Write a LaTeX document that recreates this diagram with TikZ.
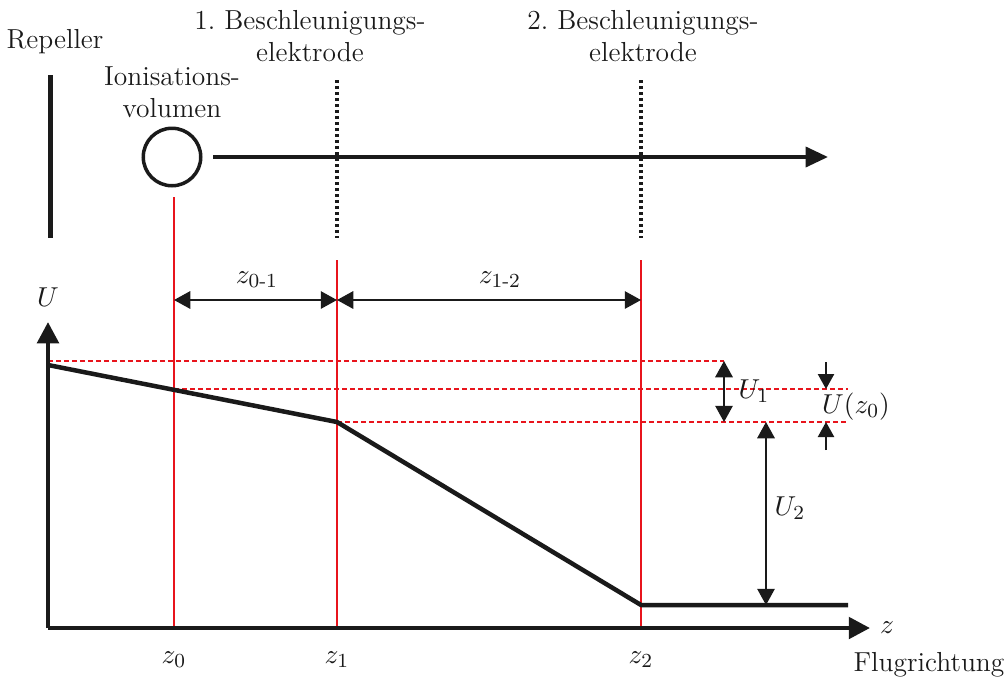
\documentclass[tikz,border=0pt]{standalone}
\usepackage{amsmath}
\usepackage{xcolor}
\usepackage{tikz}
\usetikzlibrary{positioning, arrows.meta, calc}
\definecolor{Rot}     {HTML}{E8141C}
\definecolor{Schwarz} {HTML}{1A1A1A}

\tikzset{
  lbl/.style      = {font=\fontsize{11}{13}\selectfont\frenchspacing, text=Schwarz, inner sep=0pt},
  dickline/.style = {line width=1.8pt, Schwarz},
  rotline/.style  = {line width=0.6pt, Rot},
  rotdash/.style  = {line width=0.6pt, Rot, dash pattern=on 2pt off 1.2pt},
  elektrode/.style= {line width=1.3pt, Schwarz, dash pattern=on 1.3pt off 1.1pt},
  masspfeil/.style= {line width=0.6pt, Schwarz,
                     {Triangle[length=6.5pt,width=7pt]}-{Triangle[length=6.5pt,width=7pt]}},
  kleinpfeil/.style={line width=0.6pt, Schwarz, -{Triangle[length=6pt,width=6.5pt]}},
}

\begin{document}
\begin{tikzpicture}[x=0.4pt, y=-0.4pt]
      \useasboundingbox (0,0) rectangle (1005,681);

      % Aufbau
      \node[lbl] (repeller) at (55,42) {Repeller};
      \coordinate (repOben) at (50,75);
      \coordinate (repUnten) at (50,238);
      \draw[line width=2pt, Schwarz] (repOben) -- (repUnten);

      \node[lbl, align=center] (ionlbl) at (172,92) {Ionisations-\\volumen};
      \node[circle, draw=Schwarz, line width=1.4pt, minimum size=23pt, inner sep=0pt] (volumen) at (172,157) {};

      \coordinate (flugStart) at (213,157);
      \coordinate (flugEnde) at (828,157);
      \draw[line width=1.6pt, Schwarz, -{Triangle[length=9pt,width=8pt]}] (flugStart) -- (flugEnde);

      \node[lbl, align=center] (elek1lbl) at (310,36) {1. Beschleunigungs-\\elektrode};
      \node[lbl, align=center] (elek2lbl) at (643,36) {2. Beschleunigungs-\\elektrode};
      \coordinate (elek1Oben) at (337,80);  \coordinate (elek1Unten) at (337,238);
      \coordinate (elek2Oben) at (641,80);  \coordinate (elek2Unten) at (641,238);
      \draw[elektrode] (elek1Oben) -- (elek1Unten);
      \draw[elektrode] (elek2Oben) -- (elek2Unten);

      % Potentialverlauf
      \coordinate (ursprung) at (48,628);
      \coordinate (uSpitze) at (48,322);
      \coordinate (zSpitze) at (870,628);
      \node[lbl] (ulbl) at (48,297) {$U$};
      \node[lbl] (zlbl) at (887,628) {$z$};
      \node[lbl] (fluglbl) at (929,665) {Flugrichtung};

      \coordinate (z0Oben) at (174,197); \coordinate (z0Unten) at (174,628);
      \coordinate (z1Oben) at (337,260); \coordinate (z1Unten) at (337,628);
      \coordinate (z2Oben) at (641,260); \coordinate (z2Unten) at (641,628);
      \draw[rotline] (z0Oben) -- (z0Unten);
      \draw[rotline] (z1Oben) -- (z1Unten);
      \draw[rotline] (z2Oben) -- (z2Unten);
      \node[lbl] (z0lbl) at (174,660) {$z_0$};
      \node[lbl] (z1lbl) at (337,660) {$z_1$};
      \node[lbl] (z2lbl) at (641,660) {$z_2$};

      \coordinate (d0) at (174,300); \coordinate (d1) at (337,300); \coordinate (d2) at (641,300);
      \draw[masspfeil] (d0) -- (d1);
      \draw[masspfeil] (d1) -- (d2);
      \node[lbl] (z01lbl) at (257,280) {$z_{0\text{-}1}$};
      \node[lbl] (z12lbl) at (500,280) {$z_{1\text{-}2}$};

      \coordinate (uStart) at (48,365);
      \coordinate (uZ1) at (337,422);
      \coordinate (uZ2) at (641,605);
      \coordinate (uEnde) at (848,605);

      \coordinate (h1a) at (48,361);  \coordinate (h1b) at (724,361);
      \coordinate (h2a) at (174,389); \coordinate (h2b) at (848,389);
      \coordinate (h3a) at (337,422); \coordinate (h3b) at (848,422);
      \draw[rotdash] (h1a) -- (h1b);
      \draw[rotdash] (h2a) -- (h2b);
      \draw[rotdash] (h3a) -- (h3b);

      \draw[dickline, -{Triangle[length=8.5pt,width=8.5pt]}] (ursprung) -- (uSpitze);
      \draw[dickline, -{Triangle[length=8.5pt,width=8.5pt]}] (ursprung) -- (zSpitze);
      \draw[dickline, line join=round] (uStart) -- (uZ1) -- (uZ2) -- (uEnde);

      % Spannungen
      \coordinate (u1Oben) at (724,361); \coordinate (u1Unten) at (724,422);
      \draw[masspfeil] (u1Oben) -- (u1Unten);
      \node[lbl] (u1lbl) at (754,391) {$U_1$};

      \coordinate (u2Oben) at (766,422); \coordinate (u2Unten) at (766,605);
      \draw[masspfeil] (u2Oben) -- (u2Unten);
      \node[lbl] (u2lbl) at (790,508) {$U_2$};

      \coordinate (uz0a) at (826,362); \coordinate (uz0b) at (826,389);
      \coordinate (uz0c) at (826,450); \coordinate (uz0d) at (826,422);
      \draw[kleinpfeil] (uz0a) -- (uz0b);
      \draw[kleinpfeil] (uz0c) -- (uz0d);
      \node[lbl] (uz0lbl) at (856,407) {$U(z_0)$};
    \end{tikzpicture}
\end{document}
